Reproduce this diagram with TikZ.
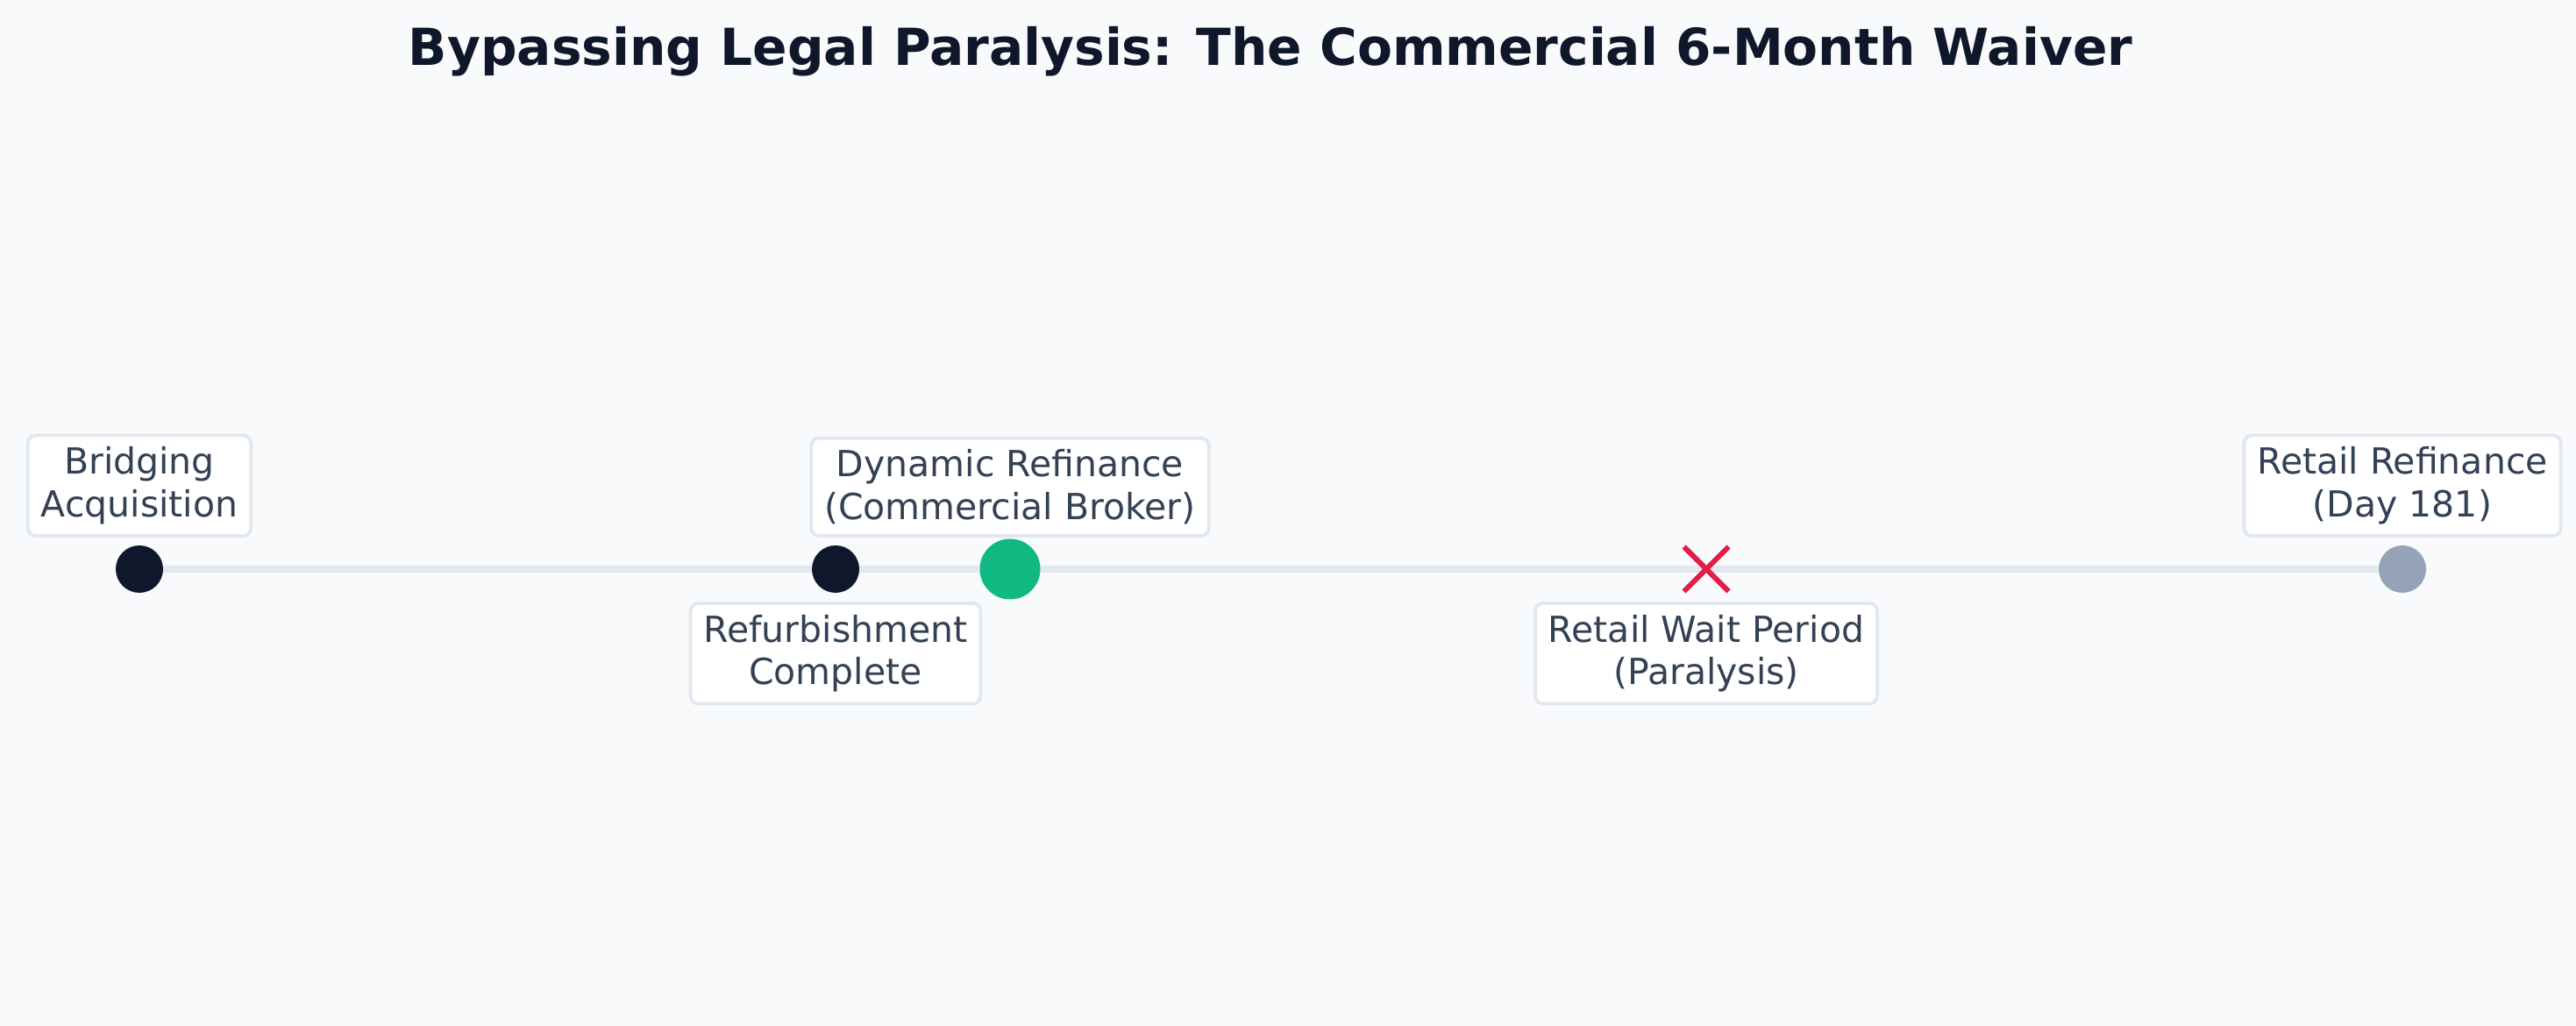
\documentclass[tikz,border=0pt]{standalone}
\usepackage{fontspec}
\setmainfont{DejaVu Sans}
\usetikzlibrary{positioning,shapes.misc,backgrounds}

\definecolor{pagebg}{HTML}{F8FAFC}
\definecolor{ink}{HTML}{0F172A}
\definecolor{labeltext}{HTML}{334155}
\definecolor{rule}{HTML}{E2E8F0}
\definecolor{go}{HTML}{10B981}
\definecolor{later}{HTML}{94A3B8}
\definecolor{stop}{HTML}{E11D48}

\newcommand*{\pagew}{29.38}
\newcommand*{\pageh}{11.70}
\newcommand*{\liney}{5.21}

\begin{document}
\begin{tikzpicture}
[
	milestone/.style={circle,fill=ink,inner sep=0pt,minimum size=0.54cm},
	bigmilestone/.style={circle,fill=go,inner sep=0pt,minimum size=0.69cm},
	waitmark/.style={cross out,draw=stop,line width=1.7pt,inner sep=0pt,minimum size=0.45cm},
	tag/.style={draw=rule,line width=1.1pt,fill=white,rounded corners=0.09cm,align=center,
		inner xsep=0.15cm,inner ysep=0.13cm,text=labeltext,
		font=\fontsize{11.66pt}{13.9pt}\selectfont},
]

	\useasboundingbox (0,0) rectangle (\pagew,\pageh);

	% title
	\node[anchor=base,text=ink,font=\fontsize{16.55pt}{20pt}\selectfont\bfseries]
		(title) at (14.49,10.95) {Bypassing Legal Paralysis: The Commercial 6-Month Waiver};

	% milestones on the line
	\node[milestone] (acq) at (1.59,\liney) {};
	\node[milestone] (refurb) at (9.53,\liney) {};
	\node[bigmilestone] (dynamic) at (11.52,\liney) {};
	\node[waitmark] (wait) at (19.46,\liney) {};
	\node[milestone,fill=later] (retail) at (27.40,\liney) {};

	% labels
	\node[tag,above=0.36cm of acq.center] (acqlbl) {Bridging\\Acquisition};
	\node[tag,below=0.37cm of refurb.center] (refurblbl) {Refurbishment\\Complete};
	\node[tag,above=0.36cm of dynamic.center] (dynamiclbl) {Dynamic Refinance\\(Commercial Broker)};
	\node[tag,below=0.37cm of wait.center] (waitlbl) {Retail Wait Period\\(Paralysis)};
	\node[tag,above=0.36cm of retail.center] (retaillbl) {Retail Refinance\\(Day 181)};

	% page and timeline
	\begin{scope}[on background layer]
		\fill[pagebg] (0,0) rectangle (\pagew,\pageh);
		\draw[rule,line width=0.08cm] (acq.center) -- (retail.center);
	\end{scope}

\end{tikzpicture}
\end{document}
